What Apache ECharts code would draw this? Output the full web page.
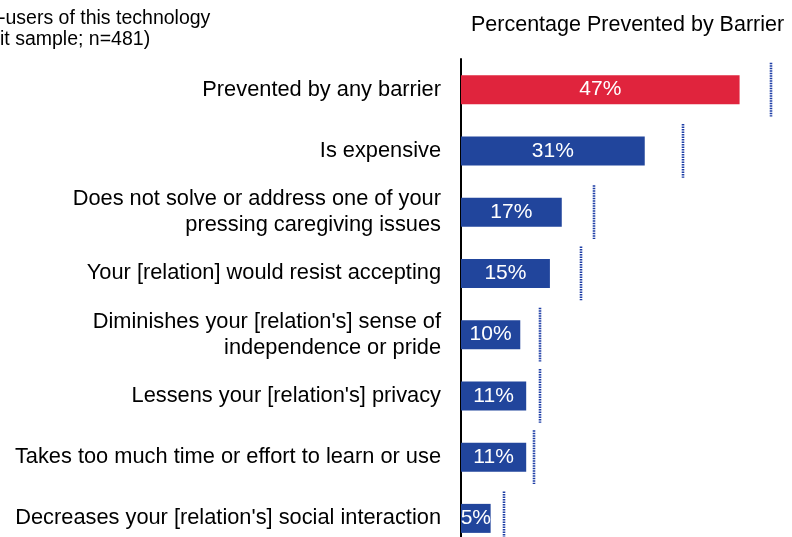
<!DOCTYPE html>
<html>
<head>
<meta charset="utf-8">
<script src="https://cdn.jsdelivr.net/npm/echarts@6/dist/echarts.min.js"></script>
<style>
  html, body { margin: 0; padding: 0; background: #fff; }
  #chart { width: 792px; height: 537px; }
</style>
</head>
<body>
<div id="chart"></div>
<script>
// Barriers that prevented use of the technology
const categories = [
  'Prevented by any barrier',
  'Is expensive',
  'Does not solve or address one of your\npressing caregiving issues',
  'Your [relation] would resist accepting',
  "Diminishes your [relation's] sense of\nindependence or pride",
  "Lessens your [relation's] privacy",
  'Takes too much time or effort to learn or use',
  "Decreases your [relation's] social interaction"
];
// Percentage prevented by each barrier
const prevented = [47, 31, 17, 15, 10, 11, 11, 5];
// Comparison level shown as a dotted marker on each row
const markerValues = [52.3, 37.5, 22.4, 20.2, 13.4, 13.4, 12.3, 7.3];

const titleText = 'Percentage Prevented by Barrier';
const noteLines = ['-users of this technology', 'it sample; n=481)'];

const FONT = '"Liberation Sans", Arial, sans-serif';
const RED = '#e0243d';
const BLUE = '#21459c';
const DOT_BLUE = '#1e3ea6';

const chart = echarts.init(document.getElementById('chart'), null, { renderer: 'canvas' });

chart.setOption({
  animation: false,
  backgroundColor: '#ffffff',
  textStyle: { fontFamily: FONT },
  // the last row runs past the bottom edge of the canvas
  grid: {
    left: 461, top: 59, right: 5, bottom: -12,
    containLabel: false,
    outerBoundsMode: 'none'
  },
  xAxis: {
    type: 'value',
    min: 0,
    max: 55,
    show: false
  },
  yAxis: {
    type: 'category',
    data: categories,
    inverse: true,
    axisLine: { show: true, lineStyle: { color: '#000', width: 2 } },
    axisTick: { show: false },
    splitLine: { show: false },
    axisLabel: {
      color: '#000',
      fontSize: 21.8,
      fontFamily: FONT,
      margin: 20,
      lineHeight: 26,
      align: 'right'
    }
  },
  graphic: [
    {
      type: 'text',
      left: 471,
      top: 14,
      style: { text: titleText, fontSize: 21.5, fontFamily: FONT, fill: '#000' }
    },
    {
      type: 'text',
      left: -1,
      top: 9,
      style: { text: noteLines[0], fontSize: 19.5, fontFamily: FONT, fill: '#000' }
    },
    {
      type: 'text',
      left: 0,
      top: 30,
      style: { text: noteLines[1], fontSize: 19.5, fontFamily: FONT, fill: '#000' }
    }
  ],
  series: [
    {
      type: 'bar',
      data: prevented.map((v, i) => ({
        value: v,
        itemStyle: { color: i === 0 ? RED : BLUE }
      })),
      barWidth: 29,
      label: {
        show: true,
        position: 'inside',
        formatter: '{c}%',
        color: '#fff',
        fontSize: 21,
        fontFamily: FONT
      },
      z: 2
    },
    {
      type: 'custom',
      data: markerValues.map((v, i) => [v, i]),
      encode: { x: 0, y: 1 },
      z: 3,
      renderItem: function (params, api) {
        const p = api.coord([api.value(0), api.value(1)]);
        const band = api.size([0, 1])[1];
        const half = band * 0.44;
        const x = Math.round(p[0]);
        return {
          type: 'line',
          shape: { x1: x, y1: p[1] - half, x2: x, y2: p[1] + half },
          style: { stroke: DOT_BLUE, lineWidth: 2.6, lineDash: [1.5, 1] }
        };
      }
    }
  ]
});
</script>
</body>
</html>
